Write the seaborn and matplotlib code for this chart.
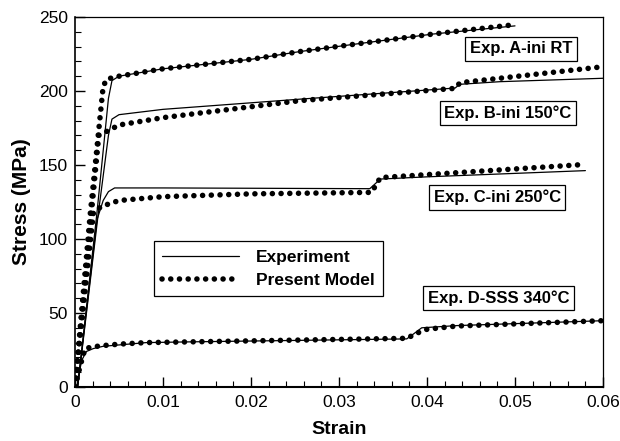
import matplotlib
matplotlib.use("Agg")
import matplotlib.pyplot as plt
from matplotlib.lines import Line2D
from matplotlib.ticker import MultipleLocator, FuncFormatter
import seaborn as sns

# Exp. A-ini RT
a_exp_strain = [0.0003, 0.0025, 0.0038, 0.0042, 0.005, 0.01, 0.02, 0.0255, 0.032, 0.0407, 0.05]
a_exp_stress = [0, 118, 195, 207, 210, 215, 221.4, 226.6, 231.8, 238.5, 244]
a_mod_strain = [0, 0.0017, 0.0032, 0.0036, 0.005, 0.01, 0.02, 0.0255, 0.032, 0.0407, 0.0502]
a_mod_stress = [0, 115, 203, 208, 210, 215, 221.4, 226.6, 231.8, 238.5, 245]

# Exp. B-ini 150C
b_exp_strain = [0.0003, 0.0026, 0.0038, 0.0042, 0.005, 0.01, 0.0256, 0.0432, 0.0437, 0.0483, 0.06]
b_exp_stress = [0, 115, 170, 181, 184, 187.6, 194.5, 202, 204.5, 206.3, 208.6]
b_mod_strain = [0, 0.0027, 0.0037, 0.005, 0.01, 0.0256, 0.0432, 0.04375, 0.06]
b_mod_stress = [0, 170, 173, 177, 182, 193.5, 201.8, 205.6, 216.4]

# Exp. C-ini 250C
c_exp_strain = [0.0003, 0.0025, 0.0032, 0.0038, 0.0045, 0.01, 0.0335, 0.0347, 0.04, 0.058]
c_exp_stress = [0, 113, 126, 132, 134.5, 134.5, 134, 140.5, 142, 146.2]
c_mod_strain = [0, 0.0021, 0.003, 0.005, 0.01, 0.02, 0.0337, 0.0347, 0.04, 0.058]
c_mod_stress = [0, 118, 122, 126, 128.6, 130.5, 131.5, 141.5, 143.5, 150.4]

# Exp. D-SSS 340C
d_exp_strain = [0.0002, 0.0004, 0.00076, 0.0013, 0.0021, 0.0032, 0.0081, 0.0131, 0.0377, 0.0385, 0.0394, 0.0434, 0.06]
d_exp_stress = [0, 7, 18, 24, 26, 27.5, 30, 30.5, 32.5, 36, 40, 41.5, 44.8]
d_mod_strain = [0, 0.00057, 0.00114, 0.0021, 0.0032, 0.0051, 0.0081, 0.0131, 0.0377, 0.039, 0.040, 0.0434, 0.06]
d_mod_stress = [0, 13.7, 26, 27.2, 28, 29, 30, 30.5, 32.9, 36.7, 39, 41.2, 44.8]

labels = ["Exp. A-ini RT", "Exp. B-ini 150\u00b0C", "Exp. C-ini 250\u00b0C", "Exp. D-SSS 340\u00b0C"]
label_pos = [(0.0507, 228.5), (0.0492, 185), (0.048, 128), (0.0481, 60)]

sns.set_style("ticks")
plt.rcParams["font.family"] = ["Liberation Sans", "DejaVu Sans"]
plt.rcParams["text.color"] = "black"
plt.rcParams["axes.labelcolor"] = "black"
plt.rcParams["xtick.color"] = "black"
plt.rcParams["ytick.color"] = "black"

fig = plt.figure(figsize=(6.2, 4.41), dpi=100)
ax = fig.add_axes([75 / 620, 1 - 387 / 441, 528 / 620, 370 / 441])

dot_kw = dict(color="black", lw=4.0, linestyle=(0, (0.01, 1.56)),
              dash_capstyle="round", solid_capstyle="round")
exp_kw = dict(color="black", lw=0.9)

curves = [
    (a_exp_strain, a_exp_stress, a_mod_strain, a_mod_stress),
    (b_exp_strain, b_exp_stress, b_mod_strain, b_mod_stress),
    (c_exp_strain, c_exp_stress, c_mod_strain, c_mod_stress),
    (d_exp_strain, d_exp_stress, d_mod_strain, d_mod_stress),
]
for xe, ye, xm, ym in curves:
    sns.lineplot(x=xm, y=ym, ax=ax, sort=False, estimator=None, **dot_kw)
    sns.lineplot(x=xe, y=ye, ax=ax, sort=False, estimator=None, **exp_kw)

for txt, (x, y) in zip(labels, label_pos):
    ax.text(x, y, txt, ha="center", va="center", fontsize=12, fontweight="bold",
            bbox=dict(boxstyle="square,pad=0.27", fc="white", ec="black", lw=0.9))

ax.set_xlim(0, 0.06)
ax.set_ylim(0, 250)
ax.xaxis.set_major_locator(MultipleLocator(0.01))
ax.xaxis.set_minor_locator(MultipleLocator(0.002))
ax.yaxis.set_major_locator(MultipleLocator(50))
ax.yaxis.set_minor_locator(MultipleLocator(10))
ax.xaxis.set_major_formatter(FuncFormatter(lambda v, p: "0" if abs(v) < 1e-9 else f"{v:.2f}"))
ax.tick_params(which="both", direction="in", top=False, right=False, labelsize=12.5)
ax.tick_params(axis="x", pad=6)
ax.tick_params(axis="y", pad=5)
ax.tick_params(which="major", length=7, width=1)
ax.tick_params(which="minor", length=4, width=0.8)
for s in ax.spines.values():
    s.set_visible(True)
    s.set_linewidth(0.9)
    s.set_color("black")
ax.spines["bottom"].set_linewidth(1.5)
ax.spines["left"].set_linewidth(1.2)

ax.set_xlabel("Strain", fontsize=14, fontweight="bold", labelpad=8)
ax.set_ylabel("Stress (MPa)", fontsize=15, fontweight="bold", labelpad=6)

handles = [Line2D([], [], **exp_kw), Line2D([], [], **dot_kw)]
ax.legend(handles, ["Experiment", "Present Model"], loc="center",
          bbox_to_anchor=(0.3665, 0.320), frameon=True, fancybox=False,
          edgecolor="black", framealpha=1, handlelength=4.4, handletextpad=1.0,
          prop=dict(weight="bold", size=12.5), borderpad=0.5, labelspacing=0.45)
ax.get_legend().get_frame().set_linewidth(0.9)

fig.savefig("out.png", dpi=100)
